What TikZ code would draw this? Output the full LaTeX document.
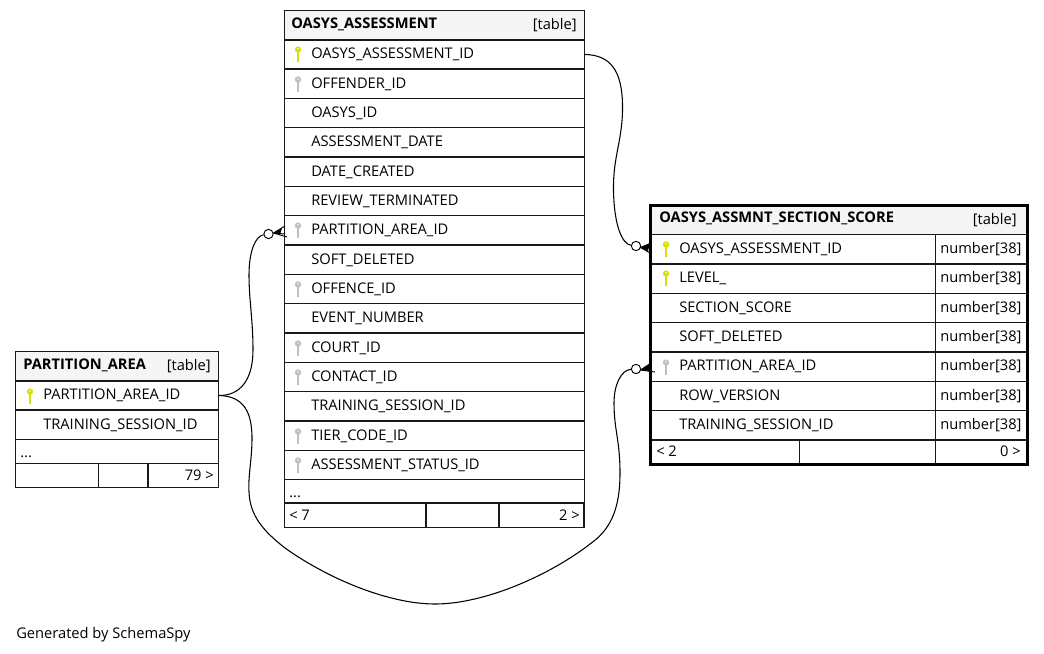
\documentclass[tikz,border=0pt]{standalone}
\usepackage{fontspec}
\setmainfont{Open Sans}
\usepackage{xcolor}
\definecolor{keygold}{HTML}{DCE000}
\definecolor{keygray}{HTML}{C0C0C0}
\definecolor{headfill}{HTML}{F5F5F5}
\tikzset{
  rowbox/.style={draw=black!90,line width=1pt,anchor=north west,inner sep=0pt,outer sep=0pt,minimum height=22pt,xshift=-0.15pt,yshift=0.15pt},
  headbox/.style={rowbox,fill=headfill},
  rowtext/.style={anchor=base west,inner sep=0pt},
  headtext/.style={rowtext,font=\fontsize{11}{13}\selectfont\bfseries},
  tagtext/.style={anchor=base east,inner sep=0pt},
  oring/.style={draw=black,fill=white,circle,line width=0.7pt,inner sep=0pt,minimum size=7pt},
  relline/.style={black,line width=0.8pt},
  crowline/.style={black,line width=0.7pt},
  keyicon/.pic={
    \fill[pic actions] (0,-4.5) circle (3.2);
    \fill[pic actions] (-1.3,-4) rectangle (1.3,8);
    \fill[white] (0,-5.2) circle (0.8);
  }
}
\begin{document}
\begin{tikzpicture}[x=0.75pt,y=-0.75pt,font=\fontsize{11}{13}\selectfont]
\useasboundingbox (0,0) rectangle (1044,653);
% OASYS_ASSESSMENT
\node[headbox,minimum width=225pt] (as-head) at (285,11) {};
\node[headtext] (as-name) at (291,28) {OASYS\_ASSESSMENT};
\node[tagtext] (as-tag) at (577,29) {[table]};
\foreach \i/\txt in {1/OASYS\_ASSESSMENT\_ID,2/OFFENDER\_ID,3/OASYS\_ID,4/ASSESSMENT\_DATE,5/DATE\_CREATED,6/REVIEW\_TERMINATED,7/PARTITION\_AREA\_ID,8/SOFT\_DELETED,9/OFFENCE\_ID,10/EVENT\_NUMBER,11/COURT\_ID,12/CONTACT\_ID,13/TRAINING\_SESSION\_ID,14/TIER\_CODE\_ID,15/ASSESSMENT\_STATUS\_ID}{
  \pgfmathsetmacro\rowy{40+(\i-1)*29.33}
  \node[rowbox,minimum width=225pt] (as-\i) at (285,\rowy) {};
  \node[rowtext] (as-\i-t) at (311,\rowy+18.8) {\txt};
}
\node[rowbox,minimum width=225pt,minimum height=17.5pt] (as-more) at (285,480) {};
\node[rowtext] (as-dots) at (289,497) {...};
\node[rowbox,minimum width=106pt,minimum height=18.5pt] (as-c1) at (285,503.3) {};
\node[rowbox,minimum width=55pt,minimum height=18.5pt] (as-c2) at (426,503.3) {};
\node[rowbox,minimum width=64pt,minimum height=18.5pt] (as-c3) at (499,503.3) {};
\node[rowtext] (as-in) at (289,520) {< 7};
\node[tagtext] (as-out) at (580,520) {2 >};
% PARTITION_AREA
\node[headbox,minimum width=152pt] (pa-head) at (16,352) {};
\node[headtext] (pa-name) at (23,369) {PARTITION\_AREA};
\node[tagtext] (pa-tag) at (211,370) {[table]};
\foreach \i/\txt in {1/PARTITION\_AREA\_ID,2/TRAINING\_SESSION\_ID}{
  \pgfmathsetmacro\rowy{381+(\i-1)*29.33}
  \node[rowbox,minimum width=152pt] (pa-\i) at (16,\rowy) {};
  \node[rowtext] (pa-\i-t) at (43,\rowy+18.8) {\txt};
}
\node[rowbox,minimum width=152pt,minimum height=18pt] (pa-more) at (16,440) {};
\node[rowtext] (pa-dots) at (20,457) {...};
\node[rowbox,minimum width=62pt,minimum height=18pt] (pa-c1) at (16,464) {};
\node[rowbox,minimum width=37pt,minimum height=18pt] (pa-c2) at (99,464) {};
\node[rowbox,minimum width=53pt,minimum height=18pt] (pa-c3) at (148,464) {};
\node[tagtext] (pa-out) at (214,480) {79 >};
% OASYS_ASSMNT_SECTION_SCORE
\node[headbox,minimum width=282pt] (sc-head) at (651,205.5) {};
\node[headtext] (sc-name) at (659,222) {OASYS\_ASSMNT\_SECTION\_SCORE};
\node[tagtext] (sc-tag) at (1017,224) {[table]};
\foreach \i/\txt in {1/OASYS\_ASSESSMENT\_ID,2/LEVEL\_,3/SECTION\_SCORE,4/SOFT\_DELETED,5/PARTITION\_AREA\_ID,6/ROW\_VERSION,7/TRAINING\_SESSION\_ID}{
  \pgfmathsetmacro\rowy{235+(\i-1)*29.33}
  \node[rowbox,minimum width=213.75pt] (sc-\i) at (651,\rowy) {};
  \node[rowbox,minimum width=68.5pt] (sc-\i-type) at (936,\rowy) {};
  \node[rowtext] (sc-\i-t) at (679,\rowy+18.5) {\txt};
  \node[rowtext] (sc-\i-n) at (940,\rowy+18.5) {number[38]};
}
\node[rowbox,minimum width=111.75pt,minimum height=18.5pt] (sc-c1) at (651,440) {};
\node[rowbox,minimum width=102pt,minimum height=18.5pt] (sc-c2) at (800,440) {};
\node[rowbox,minimum width=68.5pt,minimum height=18.5pt] (sc-c3) at (936,440) {};
\node[rowtext] (sc-in) at (656,456) {< 2};
\node[tagtext] (sc-out) at (1021,456) {0 >};
\draw[black,line width=2.3pt] (sc-head.north west) rectangle (sc-c3.south east);
% keys
\foreach \px/\py in {298/54,666/249,666/278,30/396}
  \pic[fill=keygold] at (\px,\py) {keyicon};
\foreach \px/\py in {298/84,298/230,298/289,298/348,298/377,298/436,298/465,666/367}
  \pic[fill=keygray] at (\px,\py) {keyicon};
% relations
\node[oring] (ring-a) at (268.5,234) {};
\node[oring] (ring-b) at (636,246) {};
\node[oring] (ring-c) at (636,369) {};
\draw[relline] (as-1.east) .. controls (610,55) and (622,70) .. (622.5,105) .. controls (623,140) and (613,155) .. (613.5,190) .. controls (614,225) and (622,244) .. (ring-b);
\draw[relline] (pa-1.east) .. controls (240,396) and (253,380) .. (253,350) .. controls (253,320) and (249,300) .. (249,275) .. controls (249,250) and (256,236) .. (ring-a);
\draw[relline] (pa-1.east) .. controls (238,396) and (252,405) .. (252,438) .. controls (252,460) and (248,475) .. (249,492) .. controls (250,515) and (262,530) .. (285,548) .. controls (330,580) and (390,604) .. (435,604) .. controls (485,604) and (550,575) .. (590,544) .. controls (610,530) and (620,510) .. (620,473) .. controls (620,440) and (614,430) .. (614,403) .. controls (614,385) and (621,370) .. (ring-c);
\foreach \ta/\tb/\ex/\ey in {273.5/233/285/226,273.5/233/285/234,273.5/233/287/237,640.5/247.5/651/243,640.5/247.5/651/247,640.5/247.5/650/253,640.5/370/651/363,640.5/370/651/368,640.5/370/655/372}
  \draw[crowline] (\ta,\tb) -- (\ex,\ey);
\fill (273.5,233) -- (282,228) -- (280,234.5) -- cycle;
\fill (640.5,247.5) -- (650,243.5) -- (648,251) -- cycle;
\fill (640.5,370) -- (650,364) -- (650,371) -- cycle;
\node[rowtext] (footer) at (16,638) {Generated by SchemaSpy};
\end{tikzpicture}
\end{document}
